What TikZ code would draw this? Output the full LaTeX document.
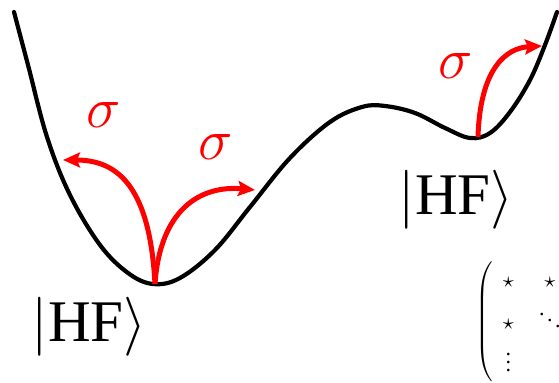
\RequirePackage{fix-cm}
\documentclass[tikz,border=0pt]{standalone}
\usepackage{fontspec}
\setmainfont{Liberation Serif}
\usetikzlibrary{arrows.meta}
\tikzset{
  pes/.style={line width=2.1pt, line join=round, line cap=round},
  exc/.style={red, line width=2.5pt, -{Stealth[length=8.5pt,width=7.5pt,inset=1.5pt]}},
  sig/.style={red, inner sep=0pt, font=\fontsize{29}{32}\selectfont},
  ket/.style={inner sep=0pt, font=\fontsize{29.5}{32}\selectfont},
}

\begin{document}
\begin{tikzpicture}[x=0.5pt,y=-0.5pt]
  \useasboundingbox (0,0) rectangle (559,383);
  \clip (0,0) rectangle (559,383);
  \draw[pes] plot[smooth, tension=0.6] coordinates {
    (14,12) (28,65) (47,137) (70,195) (100,245) (128,273) (153,284)
    (180,278) (215,250) (250,207) (290,158) (330,122) (362,107) (385,106)
    (415,113) (445,128) (470,138) (490,133) (510,112) (530,80) (545,45) (557,12)};

  \coordinate (minA) at (155,284);
  \coordinate (minB) at (478,137);
  \coordinate (upA)  at (63,160);
  \coordinate (upB)  at (255,190);
  \coordinate (upC)  at (542,46);

  \draw[exc] (minA) .. controls (150,190) and (120,160) .. (upA);
  \draw[exc] (minA) .. controls (160,210) and (200,185) .. (upB);
  \draw[exc] (minB) .. controls (480,70) and (505,48) .. (upC);

  \node[sig] (sigA) at (104,115) {$\sigma$};
  \node[sig] (sigB) at (216,147) {$\sigma$};
  \node[sig] (sigC) at (456,66)  {$\sigma$};

  \node[ket] (hfA) at (89,327)  {$\bigl|\textrm{HF}\bigr\rangle$};
  \node[ket] (hfB) at (456,200) {$\bigl|\textrm{HF}\bigr\rangle$};

  \node[inner sep=0pt, anchor=west, font=\fontsize{11}{13}\selectfont] (mat) at (475,322)
    {\renewcommand{\arraystretch}{1.5}\setlength{\nulldelimiterspace}{0pt}%
     \setlength{\delimitershortfall}{12pt}%
     $\left(\begin{array}{@{\hspace{5pt}}c@{\hspace{12pt}}c@{}}\star & \star\\ \star & \ddots\\ \vdots & \end{array}\right.$};
\end{tikzpicture}
\end{document}
